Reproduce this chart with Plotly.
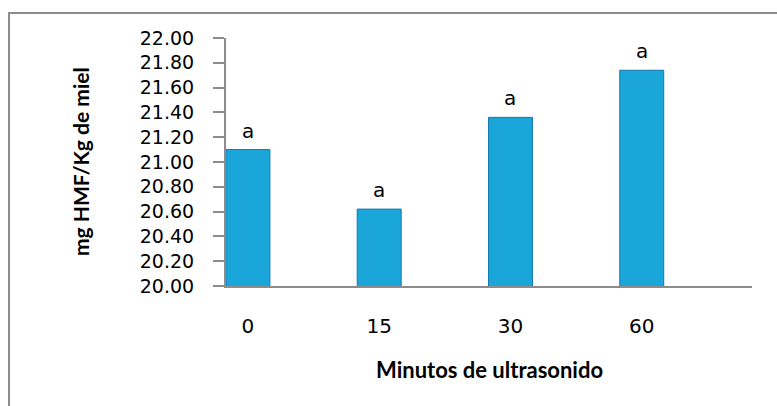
import plotly.graph_objects as go

categories = ["0", "15", "30", "60"]
values = [21.10, 20.62, 21.36, 21.74]
letters = ["a", "a", "a", "a"]
y_ticks = [20.0, 20.2, 20.4, 20.6, 20.8, 21.0, 21.2, 21.4, 21.6, 21.8, 22.0]
x_title = "Minutos de ultrasonido"
y_title = "mg HMF/Kg de miel"

W, H = 777, 406
L, R, T, B = 226, 25, 38, 120
PW, PH = W - L - R, H - T - B

fig = go.Figure()
fig.add_trace(go.Bar(
    x=categories, y=values, width=0.335,
    marker=dict(color="#1ba6da", line=dict(color="#1678b0", width=1)),
    hoverinfo="skip",
))

anns = []
for i, (v, t) in enumerate(zip(values, letters)):
    anns.append(dict(x=i, y=v, xref="x", yref="y", text=t, showarrow=False,
                     yanchor="middle", yshift=19,
                     font=dict(family="DejaVu Sans", size=20, color="#000")))

anns += [
    dict(xref="paper", yref="paper", x=0.5, y=(286 - 369) / PH,
         text=f"<b>{x_title}</b>", showarrow=False, xanchor="center", yanchor="middle",
         font=dict(family="Lato", size=22, color="#000")),
    dict(xref="paper", yref="paper", x=(80 - L) / PW, y=0.5,
         text=f"<b>{y_title}</b>", showarrow=False, textangle=-90,
         xanchor="center", yanchor="middle",
         font=dict(family="Lato", size=21, color="#000")),
]

fig.update_layout(
    width=W, height=H,
    margin=dict(l=L, r=R, t=T, b=B),
    paper_bgcolor="white", plot_bgcolor="white",
    showlegend=False,
    xaxis=dict(
        type="category", range=[-0.167, 3.84],
        showline=True, linecolor="#8c8c8c", linewidth=2,
        ticks="", showgrid=False, ticklabelstandoff=21,
        tickfont=dict(family="DejaVu Sans", size=20, color="#000"),
    ),
    yaxis=dict(
        range=[20, 22], tickvals=y_ticks, ticktext=[f"{v:.2f}" for v in y_ticks],
        showline=True, linecolor="#8c8c8c", linewidth=2,
        ticks="outside", ticklen=11, tickcolor="#8c8c8c", tickwidth=2,
        showgrid=False, zeroline=False, ticklabelstandoff=15,
        tickfont=dict(family="DejaVu Sans", size=19, color="#000"),
    ),
    annotations=anns,
    shapes=[dict(type="rect", xref="paper", yref="paper",
                 x0=(9 - L) / PW, x1=(790 - L) / PW,
                 y0=(286 - 420) / PH, y1=(286 - 13) / PH,
                 line=dict(color="#8c8c8c", width=2), layer="below")],
)

fig.write_html("out.html", config={"displayModeBar": False},
               post_script="document.body.style.margin='0';")
